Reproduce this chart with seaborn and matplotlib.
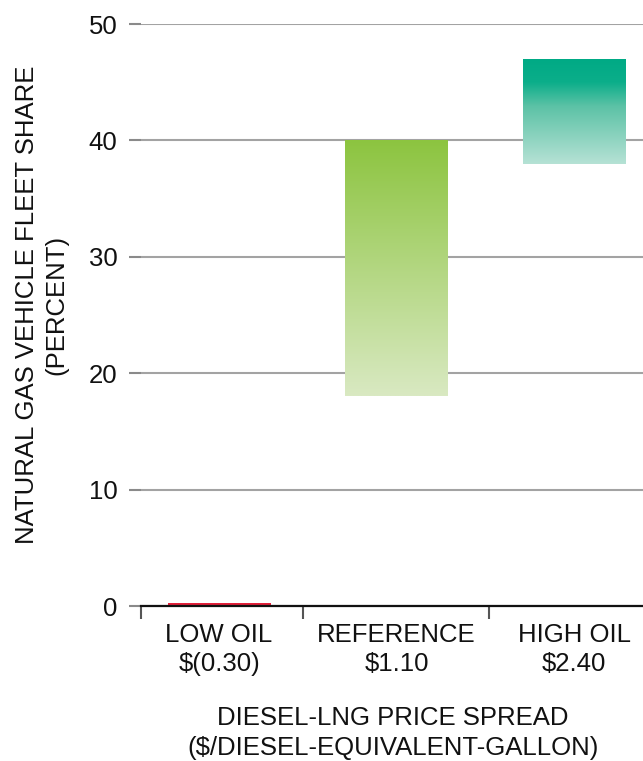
import numpy as np
import pandas as pd
import matplotlib
matplotlib.use("Agg")
import matplotlib.pyplot as plt
from matplotlib.colors import LinearSegmentedColormap
import seaborn as sns

# Scenario data: natural gas share of the heavy-truck fleet (percent)
scenarios = ["LOW OIL", "REFERENCE", "HIGH OIL"]
price_spread = ["$(0.30)", "$1.10", "$2.40"]
share_low = [0.0, 18.0, 38.0]
share_high = [0.3, 40.0, 47.0]

# Vertical gradients for each bar, listed from top to bottom
gradients = [
    [(0.0, "#e3203a"), (1.0, "#e3203a")],
    [(0.0, "#8cc43f"), (1.0, "#d9e9c2")],
    [(0.0, "#00aa85"), (0.22, "#0bae8a"), (0.45, "#5cc2a6"), (1.0, "#b6e2d5")],
]

sns.set_theme(style="white")
plt.rcParams["font.family"] = ["Liberation Sans", "DejaVu Sans"]

df = pd.DataFrame({
    "scenario": [f"{s}\n{p}" for s, p in zip(scenarios, price_spread)],
    "top": share_high,
})

W, H = 643, 761
fig = plt.figure(figsize=(W / 100, H / 100), dpi=100)
left_px, right_px, top_px, bot_px = 141, 663, 24, 606
ax = fig.add_axes([left_px / W, 1 - bot_px / H,
                   (right_px - left_px) / W, (bot_px - top_px) / H])

sns.barplot(data=df, x="scenario", y="top", ax=ax, width=0.58,
            color="white", linewidth=0, zorder=3)

# Turn the seaborn bars into floating ranges and paint gradients into them
for patch, lo, hi, stops in zip(ax.patches, share_low, share_high, gradients):
    patch.set_y(lo)
    patch.set_height(hi - lo)
    patch.set_facecolor("none")
    patch.set_edgecolor("none")
    cmap = LinearSegmentedColormap.from_list("grad", stops)
    x0 = patch.get_x()
    x1 = x0 + patch.get_width()
    grad = np.linspace(0, 1, 256).reshape(-1, 1)
    im = ax.imshow(grad, cmap=cmap, aspect="auto", origin="upper",
                   extent=[x0, x1, lo, hi], zorder=3, interpolation="bilinear")
    im.set_clip_path(patch)

ax.set_xlim(-0.44, 2.5)
ax.set_ylim(0, 50)
ax.set_yticks([0, 10, 20, 30, 40, 50])

ax.grid(axis="y", color="#a3a3a3", linewidth=1.5, zorder=0)
ax.grid(axis="x", visible=False)
ax.set_axisbelow(True)

for side in ["left", "top", "right"]:
    ax.spines[side].set_visible(False)
ax.spines["bottom"].set_color("#111111")
ax.spines["bottom"].set_linewidth(1.6)
ax.spines["bottom"].set_zorder(4)

ax.tick_params(axis="y", which="major", left=True, length=9, width=1.5,
               color="#8a8a8a", pad=8, labelsize=18.5, labelcolor="#111111")
ax.tick_params(axis="x", which="major", bottom=False, length=0, pad=12,
               labelsize=18.5, labelcolor="#111111")

# Separators between the scenario groups
ax.set_xticks([-0.44, 0.47, 1.52], minor=True)
ax.tick_params(axis="x", which="minor", bottom=True, length=9.5, width=1.5,
               color="#555555")

for lbl in ax.get_xticklabels():
    lbl.set_linespacing(1.3)

ax.set_ylabel("NATURAL GAS VEHICLE FLEET SHARE\n(PERCENT)", fontsize=18.5,
              color="#111111", linespacing=1.3)
ax.yaxis.label.set_va("center")
ax.yaxis.set_label_coords(-(left_px - 42) / (right_px - left_px), 0.517)
ax.set_xlabel("DIESEL-LNG PRICE SPREAD\n($/DIESEL-EQUIVALENT-GALLON)",
              fontsize=18.5, color="#111111", linespacing=1.35)
ax.xaxis.set_label_coords((393 - left_px) / (right_px - left_px),
                          -(733 - bot_px) / (bot_px - top_px))
ax.xaxis.label.set_va("center")

fig.savefig("out.png", dpi=100)
